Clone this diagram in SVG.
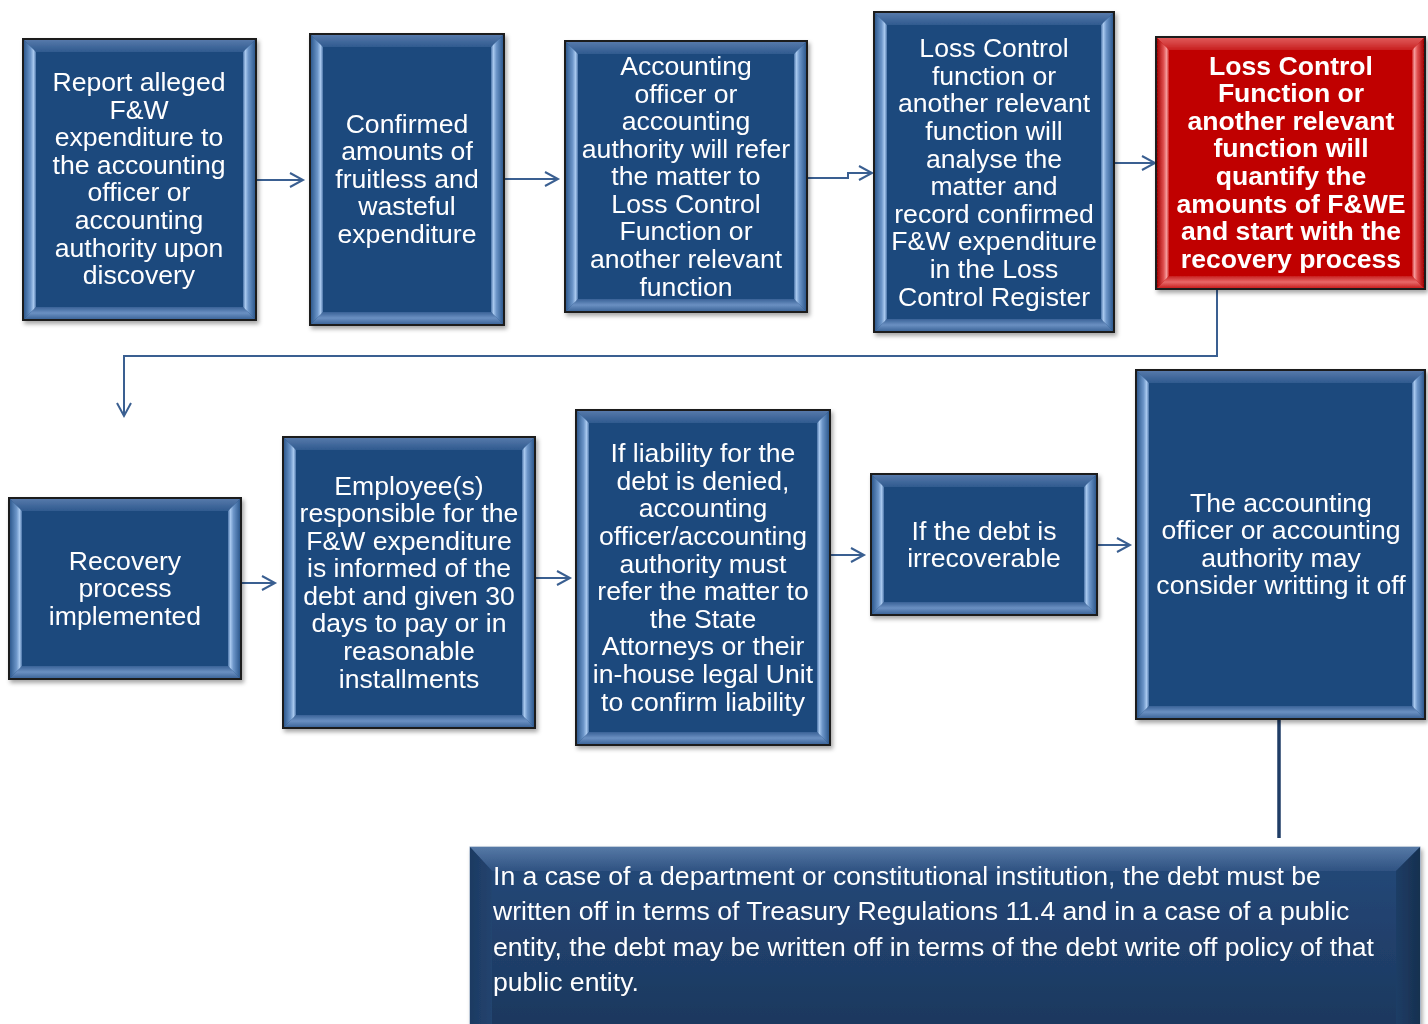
<svg xmlns="http://www.w3.org/2000/svg" width="1428" height="1024" viewBox="0 0 1428 1024">
<defs>
<linearGradient id="bl" x1="0" y1="0" x2="1" y2="0"><stop offset="0" stop-color="#2f5a8f"/><stop offset="0.55" stop-color="#6d96c9"/><stop offset="0.8" stop-color="#a9c9ef"/><stop offset="1" stop-color="#4a74a8"/></linearGradient>
<linearGradient id="br" x1="1" y1="0" x2="0" y2="0"><stop offset="0" stop-color="#2f5a8f"/><stop offset="0.55" stop-color="#6d96c9"/><stop offset="0.8" stop-color="#a9c9ef"/><stop offset="1" stop-color="#4a74a8"/></linearGradient>
<linearGradient id="bt" x1="0" y1="0" x2="0" y2="1"><stop offset="0" stop-color="#5679aa"/><stop offset="1" stop-color="#2f5a8f"/></linearGradient>
<linearGradient id="bb" x1="0" y1="1" x2="0" y2="0"><stop offset="0" stop-color="#3f679b"/><stop offset="0.5" stop-color="#6a90c2"/><stop offset="1" stop-color="#3a6297"/></linearGradient>
<linearGradient id="rl" x1="0" y1="0" x2="1" y2="0"><stop offset="0" stop-color="#a00000"/><stop offset="0.55" stop-color="#e05050"/><stop offset="0.8" stop-color="#f59a9a"/><stop offset="1" stop-color="#cc2020"/></linearGradient>
<linearGradient id="rr" x1="1" y1="0" x2="0" y2="0"><stop offset="0" stop-color="#a00000"/><stop offset="0.55" stop-color="#e05050"/><stop offset="0.8" stop-color="#f59a9a"/><stop offset="1" stop-color="#cc2020"/></linearGradient>
<linearGradient id="rt" x1="0" y1="0" x2="0" y2="1"><stop offset="0" stop-color="#e05a5a"/><stop offset="1" stop-color="#c82020"/></linearGradient>
<linearGradient id="rb" x1="0" y1="1" x2="0" y2="0"><stop offset="0" stop-color="#c82020"/><stop offset="0.5" stop-color="#e86a6a"/><stop offset="1" stop-color="#c81e1e"/></linearGradient>
<linearGradient id="wf" x1="0" y1="0" x2="0" y2="1"><stop offset="0" stop-color="#25497a"/><stop offset="1" stop-color="#1b365b"/></linearGradient>
<linearGradient id="wt" x1="0" y1="0" x2="0" y2="1"><stop offset="0" stop-color="#5679a6"/><stop offset="1" stop-color="#2f5282"/></linearGradient>
<linearGradient id="wl" x1="0" y1="0" x2="1" y2="0"><stop offset="0" stop-color="#1c3a62"/><stop offset="1" stop-color="#24446f"/></linearGradient>
<linearGradient id="wr" x1="1" y1="0" x2="0" y2="0"><stop offset="0" stop-color="#16304f"/><stop offset="1" stop-color="#1f3d66"/></linearGradient>
<filter id="sh" x="-5%" y="-5%" width="112%" height="112%"><feDropShadow dx="2" dy="3" stdDeviation="2" flood-color="#000" flood-opacity="0.35"/></filter>
<marker id="ar" markerUnits="userSpaceOnUse" markerWidth="18" markerHeight="18" refX="15" refY="8" orient="auto"><path d="M2,1 L15,8 L2,15" fill="none" stroke="#3a5f91" stroke-width="2"/></marker>
</defs>
<style>
.box{fill:#1f497d;stroke:#1c1c1c;stroke-width:2}
.red{fill:#c00000;stroke:#1c1c1c;stroke-width:2}
.t{font-family:"Liberation Sans",Arial,sans-serif;font-size:26.6px;fill:#ffffff;text-anchor:middle}
.tb{font-family:"Liberation Sans",Arial,sans-serif;font-size:26.6px;font-weight:bold;fill:#ffffff;text-anchor:middle}
.tl{font-family:"Liberation Sans",Arial,sans-serif;font-size:26.6px;fill:#ffffff}
.c{fill:none;stroke:#3a5f91;stroke-width:2}
</style>
<rect width="1428" height="1024" fill="#ffffff"/>

<g id="connectors">
<path class="c" d="M257,180 H303" marker-end="url(#ar)"/>
<path class="c" d="M505,179 H558" marker-end="url(#ar)"/>
<path class="c" d="M808,178 H848 V173 H872" marker-end="url(#ar)"/>
<path class="c" d="M1115,163 H1155" marker-end="url(#ar)"/>
<path class="c" d="M1217,290 V356 H124 V416" marker-end="url(#ar)"/>
<path class="c" d="M242,583 H275" marker-end="url(#ar)"/>
<path class="c" d="M536,578 H570" marker-end="url(#ar)"/>
<path class="c" d="M831,555 H864" marker-end="url(#ar)"/>
<path class="c" d="M1098,545 H1130" marker-end="url(#ar)"/>
<path d="M1279,720 V838" fill="none" stroke="#1f3d66" stroke-width="3.5"/>
</g>

<g id="n1" filter="url(#sh)">
<rect class="box" x="23" y="39" width="233" height="281"/>
<polygon fill="url(#bt)" points="24,40 255,40 243,52 36,52"/>
<polygon fill="url(#bb)" points="24,319 255,319 243,307 36,307"/>
<polygon fill="url(#bl)" points="24,40 36,52 36,307 24,319"/>
<polygon fill="url(#br)" points="255,40 243,52 243,307 255,319"/>
<text class="t"><tspan x="139" y="91">Report alleged</tspan><tspan x="139" y="119">F&amp;W</tspan><tspan x="139" y="146">expenditure to</tspan><tspan x="139" y="174">the accounting</tspan><tspan x="139" y="201">officer or</tspan><tspan x="139" y="229">accounting</tspan><tspan x="139" y="257">authority upon</tspan><tspan x="139" y="284">discovery</tspan></text>
</g>

<g id="n2" filter="url(#sh)">
<rect class="box" x="310" y="34" width="194" height="291"/>
<polygon fill="url(#bt)" points="311,35 503,35 491,47 323,47"/>
<polygon fill="url(#bb)" points="311,324 503,324 491,312 323,312"/>
<polygon fill="url(#bl)" points="311,35 323,47 323,312 311,324"/>
<polygon fill="url(#br)" points="503,35 491,47 491,312 503,324"/>
<text class="t"><tspan x="407" y="133">Confirmed</tspan><tspan x="407" y="160">amounts of</tspan><tspan x="407" y="188">fruitless and</tspan><tspan x="407" y="215">wasteful</tspan><tspan x="407" y="243">expenditure</tspan></text>
</g>

<g id="n3" filter="url(#sh)">
<rect class="box" x="565" y="41" width="242" height="271"/>
<polygon fill="url(#bt)" points="566,42 806,42 794,54 578,54"/>
<polygon fill="url(#bb)" points="566,311 806,311 794,299 578,299"/>
<polygon fill="url(#bl)" points="566,42 578,54 578,299 566,311"/>
<polygon fill="url(#br)" points="806,42 794,54 794,299 806,311"/>
<text class="t"><tspan x="686" y="75">Accounting</tspan><tspan x="686" y="103">officer or</tspan><tspan x="686" y="130">accounting</tspan><tspan x="686" y="158">authority will refer</tspan><tspan x="686" y="185">the matter to</tspan><tspan x="686" y="213">Loss Control</tspan><tspan x="686" y="240">Function or</tspan><tspan x="686" y="268">another relevant</tspan><tspan x="686" y="296">function</tspan></text>
</g>

<g id="n4" filter="url(#sh)">
<rect class="box" x="874" y="12" width="240" height="320"/>
<polygon fill="url(#bt)" points="875,13 1113,13 1101,25 887,25"/>
<polygon fill="url(#bb)" points="875,331 1113,331 1101,319 887,319"/>
<polygon fill="url(#bl)" points="875,13 887,25 887,319 875,331"/>
<polygon fill="url(#br)" points="1113,13 1101,25 1101,319 1113,331"/>
<text class="t"><tspan x="994" y="57">Loss Control</tspan><tspan x="994" y="85">function or</tspan><tspan x="994" y="112">another relevant</tspan><tspan x="994" y="140">function will</tspan><tspan x="994" y="168">analyse the</tspan><tspan x="994" y="195">matter and</tspan><tspan x="994" y="223">record confirmed</tspan><tspan x="994" y="250">F&amp;W expenditure</tspan><tspan x="994" y="278">in the Loss</tspan><tspan x="994" y="306">Control Register</tspan></text>
</g>

<g id="n5" filter="url(#sh)">
<rect class="red" x="1156" y="37" width="269" height="252"/>
<polygon fill="url(#rt)" points="1157,38 1424,38 1412,50 1169,50"/>
<polygon fill="url(#rb)" points="1157,288 1424,288 1412,276 1169,276"/>
<polygon fill="url(#rl)" points="1157,38 1169,50 1169,276 1157,288"/>
<polygon fill="url(#rr)" points="1424,38 1412,50 1412,276 1424,288"/>
<text class="tb"><tspan x="1291" y="75">Loss Control</tspan><tspan x="1291" y="102">Function or</tspan><tspan x="1291" y="130">another relevant</tspan><tspan x="1291" y="157">function will</tspan><tspan x="1291" y="185">quantify the</tspan><tspan x="1291" y="213">amounts of F&amp;WE</tspan><tspan x="1291" y="240">and start with the</tspan><tspan x="1291" y="268">recovery process</tspan></text>
</g>

<g id="n6" filter="url(#sh)">
<rect class="box" x="9" y="498" width="232" height="181"/>
<polygon fill="url(#bt)" points="10,499 240,499 228,511 22,511"/>
<polygon fill="url(#bb)" points="10,678 240,678 228,666 22,666"/>
<polygon fill="url(#bl)" points="10,499 22,511 22,666 10,678"/>
<polygon fill="url(#br)" points="240,499 228,511 228,666 240,678"/>
<text class="t"><tspan x="125" y="570">Recovery</tspan><tspan x="125" y="597">process</tspan><tspan x="125" y="625">implemented</tspan></text>
</g>

<g id="n7" filter="url(#sh)">
<rect class="box" x="283" y="437" width="252" height="291"/>
<polygon fill="url(#bt)" points="284,438 534,438 522,450 296,450"/>
<polygon fill="url(#bb)" points="284,727 534,727 522,715 296,715"/>
<polygon fill="url(#bl)" points="284,438 296,450 296,715 284,727"/>
<polygon fill="url(#br)" points="534,438 522,450 522,715 534,727"/>
<text class="t"><tspan x="409" y="495">Employee(s)</tspan><tspan x="409" y="522">responsible for the</tspan><tspan x="409" y="550">F&amp;W expenditure</tspan><tspan x="409" y="577">is informed of the</tspan><tspan x="409" y="605">debt and given 30</tspan><tspan x="409" y="632">days to pay or in</tspan><tspan x="409" y="660">reasonable</tspan><tspan x="409" y="688">installments</tspan></text>
</g>

<g id="n8" filter="url(#sh)">
<rect class="box" x="576" y="410" width="254" height="335"/>
<polygon fill="url(#bt)" points="577,411 829,411 817,423 589,423"/>
<polygon fill="url(#bb)" points="577,744 829,744 817,732 589,732"/>
<polygon fill="url(#bl)" points="577,411 589,423 589,732 577,744"/>
<polygon fill="url(#br)" points="829,411 817,423 817,732 829,744"/>
<text class="t"><tspan x="703" y="462">If liability for the</tspan><tspan x="703" y="490">debt is denied,</tspan><tspan x="703" y="517">accounting</tspan><tspan x="703" y="545">officer/accounting</tspan><tspan x="703" y="573">authority must</tspan><tspan x="703" y="600">refer the matter to</tspan><tspan x="703" y="628">the State</tspan><tspan x="703" y="655">Attorneys or their</tspan><tspan x="703" y="683">in-house legal Unit</tspan><tspan x="703" y="711">to confirm liability</tspan></text>
</g>

<g id="n9" filter="url(#sh)">
<rect class="box" x="871" y="474" width="226" height="141"/>
<polygon fill="url(#bt)" points="872,475 1096,475 1084,487 884,487"/>
<polygon fill="url(#bb)" points="872,614 1096,614 1084,602 884,602"/>
<polygon fill="url(#bl)" points="872,475 884,487 884,602 872,614"/>
<polygon fill="url(#br)" points="1096,475 1084,487 1084,602 1096,614"/>
<text class="t"><tspan x="984" y="540">If the debt is</tspan><tspan x="984" y="567">irrecoverable</tspan></text>
</g>

<g id="n10" filter="url(#sh)">
<rect class="box" x="1136" y="370" width="289" height="349"/>
<polygon fill="url(#bt)" points="1137,371 1424,371 1412,383 1149,383"/>
<polygon fill="url(#bb)" points="1137,718 1424,718 1412,706 1149,706"/>
<polygon fill="url(#bl)" points="1137,371 1149,383 1149,706 1137,718"/>
<polygon fill="url(#br)" points="1424,371 1412,383 1412,706 1424,718"/>
<text class="t"><tspan x="1281" y="512">The accounting</tspan><tspan x="1281" y="539">officer or accounting</tspan><tspan x="1281" y="567">authority may</tspan><tspan x="1281" y="594">consider writting it off</tspan></text>
</g>

<g id="n11" filter="url(#sh)">
<rect x="470" y="847" width="950" height="200" fill="url(#wf)" stroke="#8aa0bd" stroke-width="1"/>
<polygon fill="url(#wt)" points="470,847 1420,847 1396,871 492,871"/>
<polygon fill="url(#wl)" points="470,847 492,871 492,1047 470,1047"/>
<polygon fill="url(#wr)" points="1420,847 1396,871 1396,1047 1420,1047"/>
<text class="tl"><tspan x="493" y="885">In a case of a department or constitutional institution, the debt must be</tspan><tspan x="493" y="920">written off in terms of Treasury Regulations 11.4 and in a case of a public</tspan><tspan x="493" y="956">entity, the debt may be written off in terms of the debt write off policy of that</tspan><tspan x="493" y="991">public entity.</tspan></text>
</g>
</svg>
